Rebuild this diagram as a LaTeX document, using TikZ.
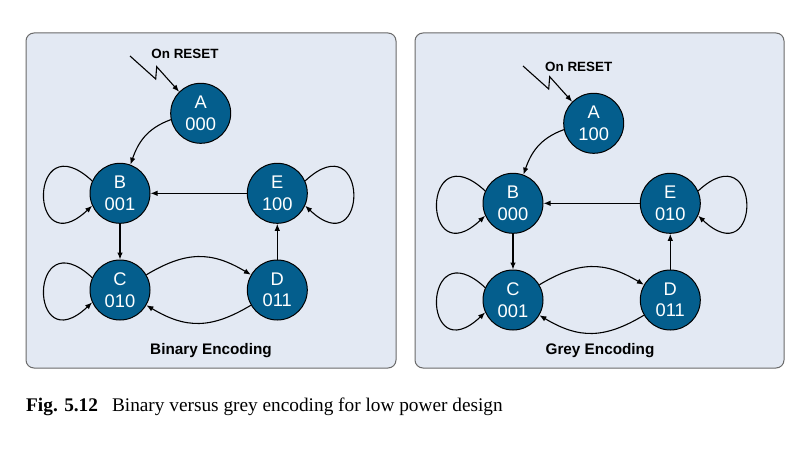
\documentclass[tikz,border=0pt]{standalone}
\usepackage{fontspec}
\setmainfont{Liberation Serif}
\newfontfamily\hvfont{Liberation Sans}
\usetikzlibrary{arrows.meta,calc}
\definecolor{panelfill}{HTML}{E3E9F3}
\definecolor{panelline}{HTML}{6A6A6A}
\definecolor{statefill}{HTML}{045E8D}
\tikzset{
  state/.style={circle, draw=black, line width=1pt, fill=statefill, minimum size=60pt,
    inner sep=0pt, text=white, align=center, font=\hvfont\fontsize{18.3}{21.4}\selectfont},
  conn/.style={line width=1.1pt, -{Latex[length=7pt,width=5.5pt]}},
  panel/.style={draw=panelline, line width=1pt, fill=panelfill, rounded corners=8pt},
  titlelbl/.style={font=\hvfont\bfseries\fontsize{15.3}{18}\selectfont, anchor=base},
  resetlbl/.style={font=\hvfont\bfseries\fontsize{13.4}{15}\selectfont, anchor=base},
}
\newcommand\fsmdraw[6]{%
  \node[state] (#1A) at (200.7,113.3) {A\\#2};
  \node[state] (#1B) at (120,193.3) {B\\#3};
  \node[state] (#1C) at (120,290) {C\\#4};
  \node[state] (#1D) at (277.3,290) {D\\#5};
  \node[state] (#1E) at (277.3,193.3) {E\\#6};
  \coordinate (#1z0) at ($(#1A)+(-70.7,-57.3)$);
  \coordinate (#1z1) at ($(#1A)+(-45,-34.3)$);
  \coordinate (#1z2) at ($(#1A)+(-44,-46.6)$);
  \draw[conn] (#1z0) -- (#1z1) -- (#1z2) -- (#1A.135);
  \draw[conn] (#1A.192) .. controls ($(#1A)+(-54.2,15.2)$) and ($(#1B)+(18,-50.3)$) .. (#1B.70);
  \draw[conn] (#1B.156) .. controls ($(#1B)+(-92,-72)$) and ($(#1B)+(-92,73)$) .. (#1B.204);
  \draw[conn] (#1C.156) .. controls ($(#1C)+(-92,-72)$) and ($(#1C)+(-92,73)$) .. (#1C.204);
  \draw[conn] (#1E.24) .. controls ($(#1E)+(92,-72)$) and ($(#1E)+(92,73)$) .. (#1E.336);
  \draw[conn] (#1B.south) -- (#1C.north);
  \draw[conn] (#1D.north) -- (#1E.south);
  \draw[conn] (#1E.west) -- (#1B.east);
  \draw[conn] (#1C.30) .. controls ($(#1C)+(66,-39)$) and ($(#1D)+(-66,-39)$) .. (#1D.150);
  \draw[conn] (#1D.210) .. controls ($(#1D)+(-66,39)$) and ($(#1C)+(66,39)$) .. (#1C.330);
}
\begin{document}
\begin{tikzpicture}[x=1pt,y=-1pt]
  \useasboundingbox (0,0) rectangle (808,452);
  \fill[white] (0,0) rectangle (808,452);
  \draw[panel] (26,33) rectangle (396,368);
  \draw[panel] (415,33) rectangle (784,368);
  \fsmdraw{L}{000}{001}{010}{011}{100}
  \begin{scope}[shift={(393,10)}]
    \fsmdraw{R}{100}{000}{001}{011}{010}
  \end{scope}
  \node[resetlbl] (lreset) at (185,58.7) {On RESET};
  \node[resetlbl] (rreset) at (578.7,71.7) {On RESET};
  \node[titlelbl] (ltitle) at (211,354) {Binary Encoding};
  \node[titlelbl] (rtitle) at (600,354) {Grey Encoding};
  \node[anchor=base west, inner sep=0pt, font=\fontsize{19.3}{22}\selectfont] (cap) at (26,411.7)
    {\textbf{Fig. 5.12}\hspace{14pt}Binary versus grey encoding for low power design};
\end{tikzpicture}
\end{document}
